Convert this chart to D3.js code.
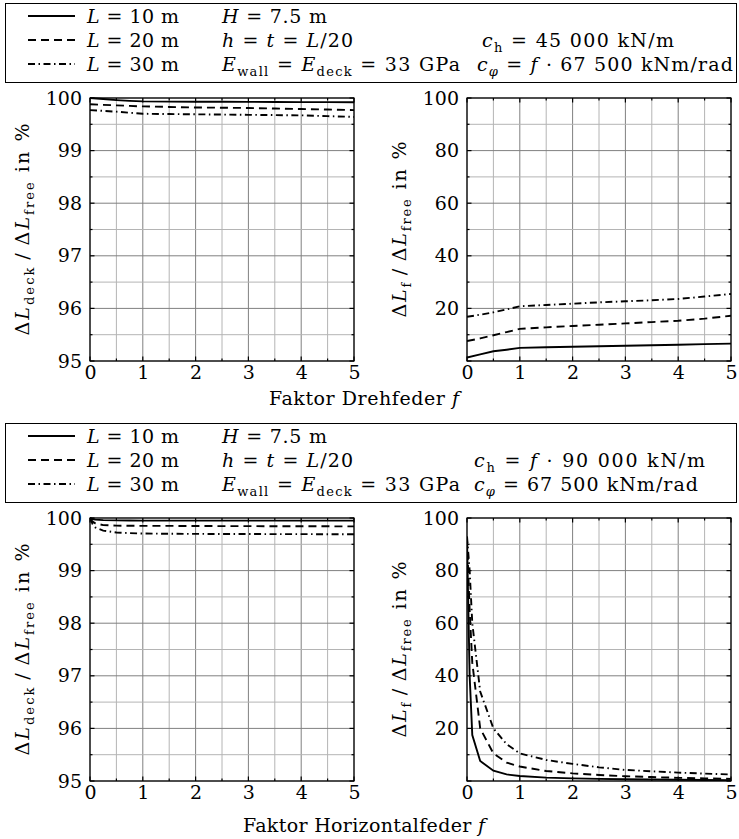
<!DOCTYPE html>
<html>
<head>
<meta charset="utf-8">
<script src="https://cdn.jsdelivr.net/npm/d3@7"></script>
<style>
  body { margin: 0; background: #ffffff; }
  svg, text { font-family: "DejaVu Serif", "Liberation Serif", serif; fill: #000; }
</style>
</head>
<body>
<script>
// ---- data ----
var fDreh = [0, 0.25, 0.5, 0.75, 1, 1.5, 2, 2.5, 3, 3.5, 4, 4.5, 5];
var deckDreh10 = [100, 99.98, 99.96, 99.945, 99.935, 99.932, 99.93, 99.928, 99.926, 99.924, 99.922, 99.921, 99.92];
var deckDreh20 = [99.88, 99.87, 99.86, 99.85, 99.84, 99.83, 99.82, 99.815, 99.81, 99.80, 99.79, 99.78, 99.77];
var deckDreh30 = [99.77, 99.755, 99.74, 99.72, 99.70, 99.695, 99.69, 99.685, 99.68, 99.675, 99.67, 99.655, 99.64];
var fDreh10 = [1.3, 2.5, 3.7, 4.3, 5.0, 5.2, 5.4, 5.6, 5.8, 6.0, 6.2, 6.4, 6.6];
var fDreh20 = [7.6, 8.6, 9.8, 11.0, 12.2, 12.8, 13.3, 13.8, 14.3, 14.8, 15.3, 16.1, 17.2];
var fDreh30 = [16.8, 17.6, 18.5, 19.6, 20.8, 21.3, 21.8, 22.3, 22.7, 23.1, 23.6, 24.5, 25.5];

var fHor = [0, 0.05, 0.1, 0.25, 0.5, 0.75, 1, 1.5, 2, 2.5, 3, 3.5, 4, 4.5, 5];
var deckHor10 = [100, 99.98, 99.97, 99.96, 99.955, 99.952, 99.95, 99.95, 99.95, 99.95, 99.95, 99.95, 99.95, 99.95, 99.95];
var deckHor20 = [100, 99.93, 99.90, 99.865, 99.855, 99.852, 99.85, 99.85, 99.848, 99.846, 99.845, 99.844, 99.843, 99.842, 99.84];
var deckHor30 = [100, 99.88, 99.82, 99.76, 99.725, 99.712, 99.705, 99.70, 99.698, 99.696, 99.695, 99.694, 99.693, 99.692, 99.69];
var fHor10 = [92, 40, 17.5, 7.6, 3.9, 2.5, 1.9, 1.3, 1.0, 0.8, 0.65, 0.55, 0.45, 0.4, 0.35];
var fHor20 = [92, 65, 45, 20, 10.5, 7, 5.5, 3.8, 2.9, 2.3, 1.8, 1.5, 1.2, 1.0, 0.8];
var fHor30 = [93, 80, 60, 34, 20, 14, 10.5, 8, 6.5, 5.2, 4.2, 3.7, 3.2, 2.8, 2.5];

var seriesLengths = ["10", "20", "30"];
var dashes = [null, "8,5", "7,3.5,1.5,3.5"];
var xTicks = [0, 1, 2, 3, 4, 5];
var deckTicks = [95, 96, 97, 98, 99, 100];
var relTicks = [20, 40, 60, 80, 100];

var holder = d3.select("body")
      .append("svg")
      .attr("width", 739)
      .attr("height", 839);

// writes a piece of math: [text, style] with style i = italic, s = subscript
function mathText(g, x, y, parts, len, anchor, size) {
  var fs = size || 19;
  var t = g.append("text").attr("x", x).attr("y", y)
      .style("font-size", fs + "px")
      .attr("text-anchor", anchor || "start");
  if (len) t.attr("textLength", len).attr("lengthAdjust", "spacing");
  var sub = false;
  parts.forEach(function(p) {
    var s = t.append("tspan").text(p[0]);
    var st = p[1] || "";
    if (st.indexOf("i") >= 0) s.style("font-style", "italic");
    if (st.indexOf("s") >= 0) {
      s.style("font-size", Math.round(fs * 0.7) + "px");
      if (!sub) s.attr("dy", 5);
      sub = true;
    } else if (sub) {
      s.attr("dy", -5);
      sub = false;
    }
  });
  return t;
}

function legend(y0, cols) {
  holder.append("rect")
      .attr("x", 5.5).attr("y", y0 + 0.5)
      .attr("width", 731).attr("height", 79)
      .style("fill", "none").style("stroke", "#000").style("stroke-width", 1);
  var rows = [y0 + 13, y0 + 37, y0 + 61];
  seriesLengths.forEach(function(n, i) {
    holder.append("line")
        .attr("x1", 28).attr("x2", 75)
        .attr("y1", rows[i]).attr("y2", rows[i])
        .style("stroke", "#000").style("stroke-width", 2)
        .style("stroke-dasharray", dashes[i]);
    mathText(holder, 87, rows[i] + 7, [["L", "i"], [" = " + n + " m"]], 92);
  });
  mathText(holder, 222, rows[0] + 7, [["H", "i"], [" = 7.5 m"]], 105);
  mathText(holder, 222, rows[1] + 7, [["h", "i"], [" = "], ["t", "i"], [" = "], ["L", "i"], ["/20"]], 131);
  mathText(holder, 222, rows[2] + 7, [["E", "i"], ["wall", "s"], [" = "], ["E", "i"], ["deck", "s"], [" = 33 GPa"]], 238);
  cols.forEach(function(c) {
    mathText(holder, c.x, rows[c.row] + 7, c.parts, c.len);
  });
}

function panel(left, top, yDomain, yMinor, yTicks, xs, ys, yLabel, yLabelLen) {
  var w = 264, h = 263;
  var x = d3.scaleLinear().domain([0, 5]).range([left, left + w]);
  var y = d3.scaleLinear().domain(yDomain).range([top + h, top]);
  var g = holder.append("g");

  var xMinor = d3.range(0, 5.01, 0.5);
  var yM = d3.range(yDomain[0], yDomain[1] + 1e-6, yMinor);

  // grid
  g.selectAll(".gx").data(xMinor).enter().append("line")
      .attr("x1", function(d) { return x(d); }).attr("x2", function(d) { return x(d); })
      .attr("y1", top).attr("y2", top + h)
      .style("stroke", function(d, i) { return i % 2 ? "#b4b4b4" : "#808080"; })
      .style("stroke-width", 1);
  g.selectAll(".gy").data(yM).enter().append("line")
      .attr("x1", left).attr("x2", left + w)
      .attr("y1", function(d) { return y(d); }).attr("y2", function(d) { return y(d); })
      .style("stroke", function(d, i) { return i % 2 ? "#b4b4b4" : "#808080"; })
      .style("stroke-width", 1);

  // ticks on all four sides
  xMinor.forEach(function(d, i) {
    var len = i % 2 ? 2.5 : 4.5;
    g.append("line").attr("x1", x(d)).attr("x2", x(d)).attr("y1", top + h).attr("y2", top + h - len)
        .style("stroke", "#000").style("stroke-width", 1.2);
    g.append("line").attr("x1", x(d)).attr("x2", x(d)).attr("y1", top).attr("y2", top + len)
        .style("stroke", "#000").style("stroke-width", 1.2);
  });
  yM.forEach(function(d, i) {
    var len = i % 2 ? 2.5 : 4.5;
    g.append("line").attr("x1", left).attr("x2", left + len).attr("y1", y(d)).attr("y2", y(d))
        .style("stroke", "#000").style("stroke-width", 1.2);
    g.append("line").attr("x1", left + w).attr("x2", left + w - len).attr("y1", y(d)).attr("y2", y(d))
        .style("stroke", "#000").style("stroke-width", 1.2);
  });

  // data lines
  var clipId = "clip" + left + "_" + top;
  holder.append("clipPath").attr("id", clipId).append("rect")
      .attr("x", left).attr("y", top - 1).attr("width", w).attr("height", h + 1);
  var line = d3.line().x(function(d) { return x(d[0]); }).y(function(d) { return y(d[1]); });
  ys.forEach(function(s, i) {
    g.append("path")
        .datum(xs.map(function(v, j) { return [v, s[j]]; }))
        .attr("d", line)
        .attr("clip-path", "url(#" + clipId + ")")
        .style("fill", "none").style("stroke", "#000").style("stroke-width", 1.9)
        .style("stroke-dasharray", dashes[i]);
  });

  // frame
  g.append("rect").attr("x", left).attr("y", top).attr("width", w).attr("height", h)
      .style("fill", "none").style("stroke", "#000").style("stroke-width", 1.2);

  // tick labels
  var xa = g.append("g").attr("transform", "translate(0," + (top + h) + ")")
      .call(d3.axisBottom(x).tickValues(xTicks).tickSize(0).tickPadding(4).tickFormat(d3.format("d")));
  var ya = g.append("g").attr("transform", "translate(" + left + ",0)")
      .call(d3.axisLeft(y).tickValues(yTicks).tickSize(0).tickPadding(8).tickFormat(d3.format("d")));
  [xa, ya].forEach(function(a) {
    a.attr("font-family", null).attr("font-size", null);
    a.select(".domain").remove();
    a.selectAll("text").style("font-size", "19px");
  });

  // y label
  var lab = mathText(g, 0, 0, yLabel, yLabelLen, "middle");
  lab.attr("transform", "translate(" + (left - 61) + "," + (top + h / 2) + ") rotate(-90)");
}

var deckLabel = [["Δ"], ["L", "i"], ["deck", "s"], ["\u2009/\u2009Δ"], ["L", "i"], ["free", "s"], [" in %"]];
var relLabel = [["Δ"], ["L", "i"], ["f", "s"], ["\u2009/\u2009Δ"], ["L", "i"], ["free", "s"], [" in %"]];

// ---- upper block: rotational spring ----
legend(3, [
  {x: 482, row: 1, len: 192, parts: [["c", "i"], ["h", "s"], [" = 45 000 kN/m"]]},
  {x: 477, row: 2, len: 256, parts: [["c", "i"], ["φ", "si"], [" = "], ["f", "i"], [" · 67 500 kNm/rad"]]}
]);
panel(90, 98, [95, 100], 0.5, deckTicks, fDreh, [deckDreh10, deckDreh20, deckDreh30], deckLabel, 212);
panel(467, 98, [0, 100], 10, relTicks, fDreh, [fDreh10, fDreh20, fDreh30], relLabel, 176);
mathText(holder, 364, 405, [["Faktor Drehfeder "], ["f", "i"]], 190, "middle", 19);

// ---- lower block: horizontal spring ----
legend(423, [
  {x: 474, row: 1, len: 231, parts: [["c", "i"], ["h", "s"], [" = "], ["f", "i"], [" · 90 000 kN/m"]]},
  {x: 474, row: 2, len: 224, parts: [["c", "i"], ["φ", "si"], [" = 67 500 kNm/rad"]]}
]);
panel(90, 518, [95, 100], 0.5, deckTicks, fHor, [deckHor10, deckHor20, deckHor30], deckLabel, 212);
panel(467, 518, [0, 100], 10, relTicks, fHor, [fHor10, fHor20, fHor30], relLabel, 176);
mathText(holder, 364, 832, [["Faktor Horizontalfeder "], ["f", "i"]], 242, "middle", 19);
</script>
</body>
</html>
